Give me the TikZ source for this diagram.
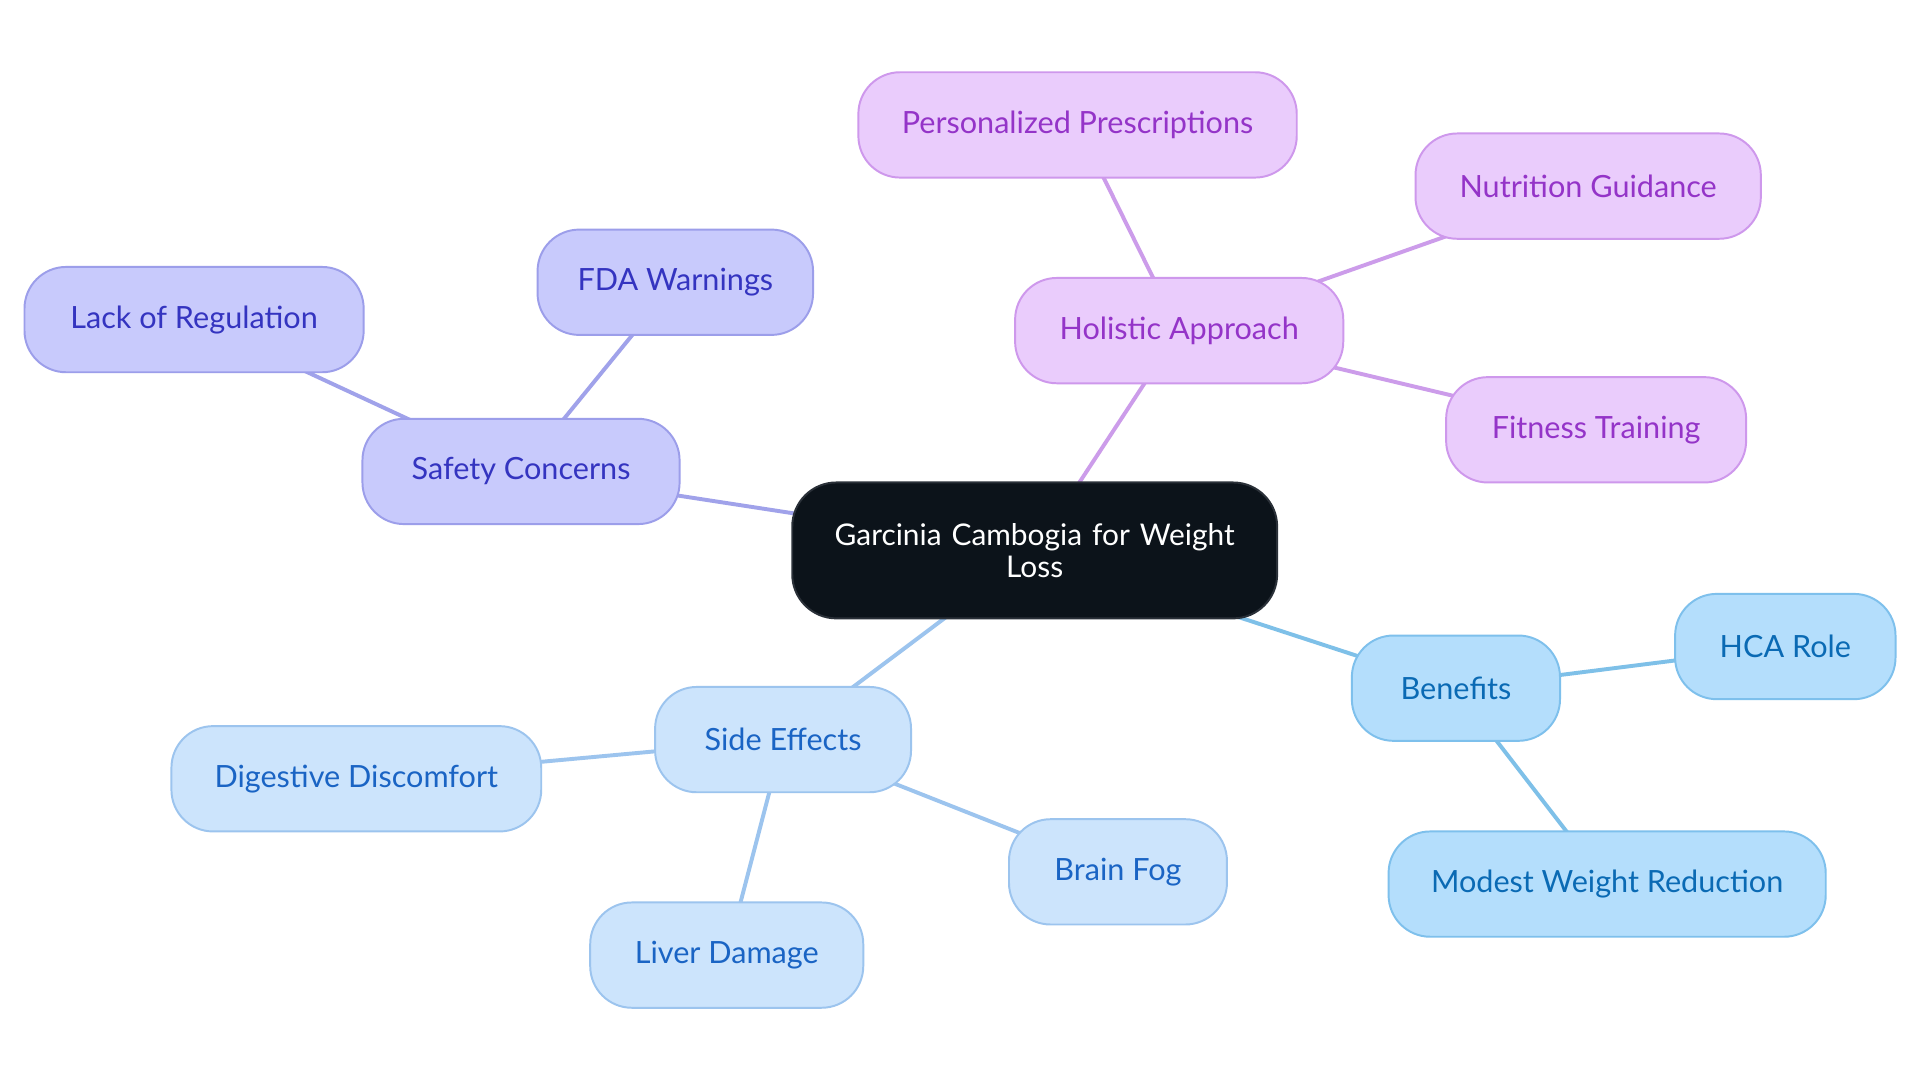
\documentclass[tikz,border=0pt]{standalone}
\usepackage{fontspec}
\setmainfont{Lato}
\usetikzlibrary{backgrounds}
\definecolor{cfill}{HTML}{0C131A}
\definecolor{cdraw}{HTML}{2A3038}
\definecolor{sfill}{HTML}{C8CAFC}
\definecolor{sdraw}{HTML}{9C9EEA}
\definecolor{stext}{HTML}{3434C0}
\definecolor{sedge}{HTML}{A0A2EA}
\definecolor{hfill}{HTML}{EACCFC}
\definecolor{hdraw}{HTML}{CE98EC}
\definecolor{htext}{HTML}{9434C8}
\definecolor{hedge}{HTML}{CC9CEA}
\definecolor{efill}{HTML}{CCE4FC}
\definecolor{edraw}{HTML}{9CC4EE}
\definecolor{etext}{HTML}{1A64C4}
\definecolor{eedge}{HTML}{9CC4EE}
\definecolor{bfill}{HTML}{B4DEFC}
\definecolor{bdraw}{HTML}{7EC0EC}
\definecolor{btext}{HTML}{0A6AB4}
\definecolor{bedge}{HTML}{7EC0E8}
\begin{document}
\begin{tikzpicture}[x=0.5pt,y=-0.5pt,
  box/.style={rounded corners=17pt, draw, line width=0.8pt, inner sep=0pt,
    align=center, minimum height=43pt, font=\fontsize{12.5}{13}\selectfont},
  central/.style={box, fill=cfill, draw=cdraw, text=white, minimum height=55.5pt,
    minimum width=198pt, rounded corners=18pt, text width=170pt,
    font=\fontsize{12.2}{13}\selectfont},
  safety/.style={box, fill=sfill, draw=sdraw, text=stext},
  holistic/.style={box, fill=hfill, draw=hdraw, text=htext},
  side/.style={box, fill=efill, draw=edraw, text=etext},
  benef/.style={box, fill=bfill, draw=bdraw, text=btext},
  link/.style={line width=1.6pt}]
\node[central] (c) at (845,449.5) {Garcinia Cambogia for Weight\\Loss};
\node[safety, minimum width=129.5pt] (s) at (425.5,385) {Safety Concerns};
\node[safety, minimum width=138.5pt] (sl) at (158.5,261) {Lack of Regulation};
\node[safety, minimum width=112.5pt] (sf) at (551.5,230.5) {FDA Warnings};
\node[holistic, minimum width=134pt] (h) at (963,270) {Holistic Approach};
\node[holistic, minimum width=179pt] (hp) at (880,102) {Personalized Prescriptions};
\node[holistic, minimum width=141pt] (hn) at (1297,152) {Nutrition Guidance};
\node[holistic, minimum width=122.5pt] (hf) at (1303.5,351) {Fitness Training};
\node[side, minimum width=104.5pt] (e) at (639.5,604) {Side Effects};
\node[side, minimum width=151pt] (ed) at (291,636) {Digestive Discomfort};
\node[side, minimum width=111.5pt] (el) at (593.5,780) {Liver Damage};
\node[side, minimum width=89pt] (eb) at (913,712) {Brain Fog};
\node[benef, minimum width=85pt] (b) at (1189,562) {Benefits};
\node[benef, minimum width=90pt] (bh) at (1458,528) {HCA Role};
\node[benef, minimum width=178.5pt] (bm) at (1312.5,722) {Modest Weight Reduction};
\begin{scope}[on background layer]
\fill[white] (0,0) rectangle (1568,884.5);
\useasboundingbox (0,0) rectangle (1568,884.5);
\draw[link, sedge] (c.center) -- (s.center);
\draw[link, sedge] (s.center) -- (sl.center);
\draw[link, sedge] (s.center) -- (sf.center);
\draw[link, hedge] (c.center) -- (h.center);
\draw[link, hedge] (h.center) -- (hp.center);
\draw[link, hedge] (h.center) -- (hn.center);
\draw[link, hedge] (h.center) -- (hf.center);
\draw[link, eedge] (c.center) -- (e.center);
\draw[link, eedge] (e.center) -- (ed.center);
\draw[link, eedge] (e.center) -- (el.center);
\draw[link, eedge] (e.center) -- (eb.center);
\draw[link, bedge] (c.center) -- (b.center);
\draw[link, bedge] (b.center) -- (bh.center);
\draw[link, bedge] (b.center) -- (bm.center);
\end{scope}
\end{tikzpicture}
\end{document}
